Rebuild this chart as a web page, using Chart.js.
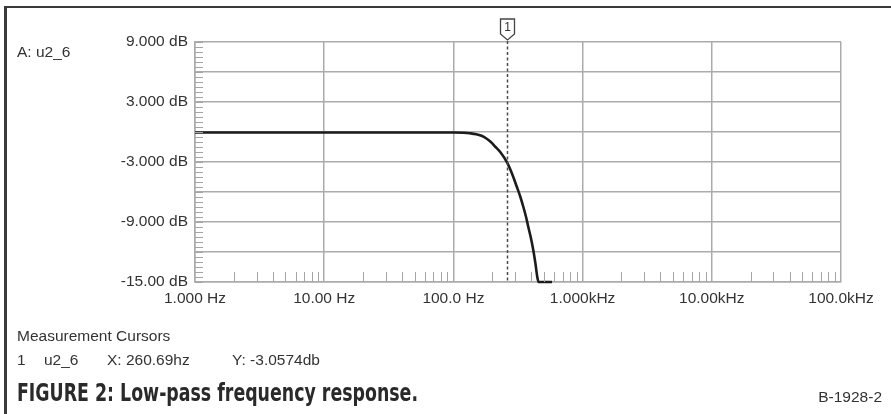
<!DOCTYPE html>
<html>
<head>
<meta charset="utf-8">
<script src="https://cdn.jsdelivr.net/npm/chart.js@4.4.1/dist/chart.umd.min.js"></script>
<style>
  html, body { margin: 0; padding: 0; background: #fff; }
  body { width: 891px; height: 414px; position: relative; overflow: hidden;
         font-family: "Liberation Sans", Arial, sans-serif; color: #333; }
  #chartBox { position: absolute; left: 0; top: 0; width: 891px; height: 414px; }
  .frame { position: absolute; left: 4px; top: 6px; width: 900px; height: 420px;
           border-left: 3px solid #3a3a3a; border-top: 2px solid #3a3a3a; }
  .txt { position: absolute; font-size: 15.5px; line-height: 1; white-space: pre; }
  #title { font-family: "Liberation Sans Narrow", "DejaVu Sans Condensed", "Liberation Sans", sans-serif;
           font-weight: bold; font-size: 24px; color: #2a2a2a; transform-origin: left center; }
</style>
</head>
<body>
<div id="chartBox"><canvas id="myChart" width="891" height="414"></canvas></div>
<div class="frame"></div>
<div class="txt" style="left:17px;top:44px;">A: u2_6</div>
<div class="txt" style="left:17px;top:328px;">Measurement Cursors</div>
<div class="txt" style="left:17px;top:352px;">1</div>
<div class="txt" style="left:44px;top:352px;">u2_6</div>
<div class="txt" id="curX" style="left:107px;top:352px;"></div>
<div class="txt" id="curY" style="left:232px;top:352px;"></div>
<div class="txt" id="title" style="left:17px;top:381px;">FIGURE 2: Low-pass frequency response.</div>
<div class="txt" style="right:9px;top:389px;">B-1928-2</div>
<script>
const freqHz = [1, 10, 100, 120, 134, 150, 165, 180, 195, 210, 232, 260.69, 285, 309, 330, 348, 365, 380, 398, 415, 432, 446, 456, 580];
const gainDb = [-0.05, -0.05, -0.05, -0.08, -0.13, -0.22, -0.38, -0.65, -1.0, -1.45, -2.05, -3.06, -4.2, -5.45, -6.5, -7.5, -8.5, -9.5, -10.6, -11.8, -13.2, -14.5, -15, -15];

// axes
const xTickHz = [1, 10, 100, 1000, 10000, 100000];
const xTickLabels = ['1.000 Hz', '10.00 Hz', '100.0 Hz', '1.000kHz', '10.00kHz', '100.0kHz'];
const yTickDb = [9, 6, 3, 0, -3, -6, -9, -12, -15];
const yTickLabels = ['9.000 dB', '', '3.000 dB', '', '-3.000 dB', '', '-9.000 dB', '', '-15.00 dB'];

// measurement cursor
const cursorHz = 260.69;
const cursorDb = -3.0574;

document.getElementById('curX').textContent = 'X: ' + cursorHz.toFixed(2) + 'hz';
document.getElementById('curY').textContent = 'Y: ' + cursorDb.toFixed(4) + 'db';

// squeeze the figure caption to the width it has in the print
const title = document.getElementById('title');
const tw = title.getBoundingClientRect().width;
title.style.transform = 'scaleX(' + (401 / tw) + ')';

const gridColor = '#ababab';

const extrasPlugin = {
  id: 'extras',
  afterDatasetsDraw(chart) {
    const ctx = chart.ctx;
    const xs = chart.scales.x, ys = chart.scales.y;
    const area = chart.chartArea;
    ctx.save();

    // minor ticks on the y axis (every 0.5 dB)
    ctx.strokeStyle = '#a4a4a4';
    ctx.lineWidth = 1;
    for (let v = -15; v <= 9; v += 0.5) {
      const y = Math.round(ys.getPixelForValue(v)) + 0.5;
      ctx.beginPath();
      ctx.moveTo(area.left, y);
      ctx.lineTo(area.left + 8, y);
      ctx.stroke();
    }
    // minor ticks on the x axis (2..9 in every decade)
    for (let d = 0; d < xTickHz.length - 1; d++) {
      for (let k = 2; k <= 9; k++) {
        const x = Math.round(xs.getPixelForValue(xTickHz[d] * k)) + 0.5;
        ctx.beginPath();
        ctx.moveTo(x, area.bottom);
        ctx.lineTo(x, area.bottom - 10);
        ctx.stroke();
      }
    }

    // cursor line
    const cx = Math.round(xs.getPixelForValue(cursorHz)) + 0.5;
    ctx.strokeStyle = '#4a4a4a';
    ctx.lineWidth = 1.5;
    ctx.setLineDash([3, 2.5]);
    ctx.beginPath();
    ctx.moveTo(cx, area.top - 1);
    ctx.lineTo(cx, area.bottom);
    ctx.stroke();
    ctx.setLineDash([]);

    // cursor flag
    ctx.fillStyle = '#fff';
    ctx.strokeStyle = '#444';
    ctx.lineWidth = 1.3;
    ctx.beginPath();
    ctx.moveTo(cx - 7, 19);
    ctx.lineTo(cx + 7, 19);
    ctx.lineTo(cx + 7, 34);
    ctx.lineTo(cx, 40);
    ctx.lineTo(cx - 7, 34);
    ctx.closePath();
    ctx.fill();
    ctx.stroke();
    ctx.fillStyle = '#333';
    ctx.font = '12px "Liberation Sans", Arial, sans-serif';
    ctx.textAlign = 'center';
    ctx.textBaseline = 'middle';
    ctx.fillText('1', cx, 28);
    ctx.restore();
  }
};

const ctx = document.getElementById('myChart');

const myChart = new Chart(ctx, {
  type: 'line',
  data: {
    datasets: [{
      data: freqHz.map((f, i) => ({ x: f, y: gainDb[i] })),
      borderColor: '#1c1c1c',
      borderWidth: 2.6,
      pointRadius: 0,
      cubicInterpolationMode: 'monotone',
      clip: 4
    }]
  },
  options: {
    responsive: false,
    animation: false,
    layout: { padding: { top: 42, right: 50, left: 0, bottom: 0 } },
    plugins: { legend: { display: false }, tooltip: { enabled: false } },
    scales: {
      x: {
        type: 'logarithmic',
        min: 1,
        max: 100000,
        afterBuildTicks: s => { s.ticks = xTickHz.map(v => ({ value: v })); },
        afterFit: s => { s.height = 132; },
        grid: { color: gridColor, lineWidth: 1.5, drawTicks: false },
        border: { color: gridColor, width: 1.5 },
        ticks: {
          autoSkip: false, maxRotation: 0, padding: 7, color: '#333',
          font: { family: '"Liberation Sans", Arial, sans-serif', size: 15.5 },
          callback: (v, i) => xTickLabels[i]
        }
      },
      y: {
        type: 'linear',
        min: -15,
        max: 9,
        afterBuildTicks: s => { s.ticks = yTickDb.map(v => ({ value: v })); },
        afterFit: s => { s.width = 195; },
        grid: { color: gridColor, lineWidth: 1.5, drawTicks: false },
        border: { color: gridColor, width: 1.5 },
        ticks: {
          autoSkip: false, padding: 7, color: '#333',
          font: { family: '"Liberation Sans", Arial, sans-serif', size: 15.5 },
          callback: (v, i) => yTickLabels[i]
        }
      }
    }
  },
  plugins: [extrasPlugin]
});
</script>
</body>
</html>
